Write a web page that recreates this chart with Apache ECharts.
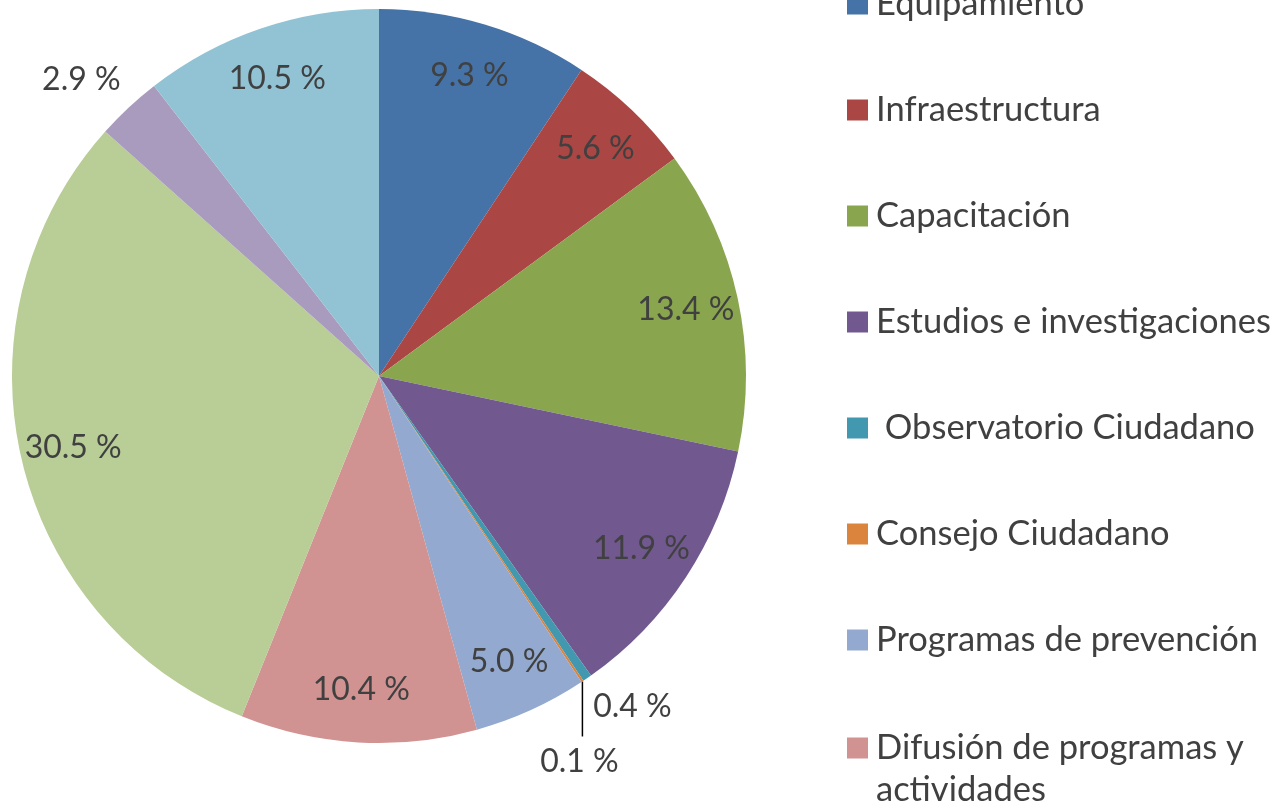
<!DOCTYPE html>
<html><head><meta charset="utf-8">
<script src="https://cdn.jsdelivr.net/npm/echarts@6/dist/echarts.min.js"></script>
<style>html,body{margin:0;padding:0;background:#fff;overflow:hidden;} #c{width:1280px;height:808px;}</style>
</head><body><div id="c"></div>
<script>
// Categories (the last three legend entries are cut off in the reference; names not visible)
const categories = ['Equipamiento', 'Infraestructura', 'Capacitación', 'Estudios e investigaciones',
  ' Observatorio Ciudadano', 'Consejo Ciudadano', 'Programas de prevención',
  'Difusión de programas y actividades', 'Serie 9', 'Serie 10', 'Serie 11'];
const values = [9.3, 5.6, 13.4, 11.9, 0.4, 0.1, 5.0, 10.4, 30.5, 2.9, 10.5];
const colors = ['#4572A7', '#AA4643', '#89A54E', '#71588F', '#4198AF', '#DB843D',
  '#93A9CF', '#D19392', '#B9CD96', '#A99BBD', '#92C3D4'];
const outsideIdx = [4, 5, 9];

const FONT = 'Lato';
const TXT = '#404040';
const fmt = p => p.value.toFixed(1) + ' %';

const chart = echarts.init(document.getElementById('c'), null, {renderer: 'canvas'});

const mainData = categories.map((n, i) => {
  const d = {name: n, value: values[i], itemStyle: {color: colors[i]}};
  if (outsideIdx.includes(i)) {
    d.label = {show: true};
    d.labelLine = {show: true, lineStyle: i === 5 ? {color: '#000', width: 1.5, opacity: 1} : {opacity: 0}};
  }
  return d;
});
const overlayData = categories.map((n, i) => ({
  name: n, value: values[i],
  label: {show: !outsideIdx.includes(i)}
}));

const option = {
  backgroundColor: '#fff',
  animation: false,
  legend: [{
    orient: 'vertical', left: 847, top: -17, padding: 0, height: 1000,
    itemWidth: 21, itemHeight: 21, itemGap: 64, icon: 'rect', selectedMode: false,
    textStyle: {fontFamily: FONT, fontSize: 34.5, color: TXT, lineHeight: 42, padding: [0, 0, 0, 3]},
    data: categories.slice(0, 7)
  }, {
    orient: 'vertical', left: 847, top: 685, padding: 0, height: 300,
    itemWidth: 21, itemHeight: 21, icon: 'rect', selectedMode: false,
    formatter: name => '\n' + name.replace(/ (\S+)$/, '\n$1'),
    textStyle: {fontFamily: FONT, fontSize: 34.5, color: TXT, lineHeight: 42,
      padding: [0, 0, 0, 3]},
    data: [categories[7]]
  }],
  series: [{
    type: 'pie', center: [379, 376], radius: 367, startAngle: 90, clockwise: true,
    avoidLabelOverlap: false, silent: true, emphasis: {disabled: true},
    itemStyle: {borderWidth: 0},
    label: {show: false, position: 'outside', fontFamily: FONT, fontSize: 32, color: TXT, formatter: fmt},
    labelLine: {show: false, length: 20, length2: 0},
    labelLayout: function (p) {
      const pts = p.labelLinePoints;
      if (!pts) return {};
      const e = pts[0];
      if (p.dataIndex === 5) {
        return {x: e[0] - 3, y: e[1] + 80, align: 'center', verticalAlign: 'middle',
          labelLinePoints: [[e[0], e[1]], [e[0], e[1] + 55], [e[0], e[1] + 55]]};
      }
      if (p.dataIndex === 4) {
        return {x: e[0] + 6, y: e[1] + 28, align: 'left', verticalAlign: 'middle'};
      }
      if (p.dataIndex === 9) {
        return {x: e[0] - 8, y: e[1] - 28, align: 'right', verticalAlign: 'middle'};
      }
      return {};
    },
    data: mainData
  }, {
    type: 'pie', center: [379, 376], radius: [255, 367], startAngle: 90, clockwise: true,
    silent: true, emphasis: {disabled: true},
    itemStyle: {color: 'rgba(0,0,0,0)', borderWidth: 0},
    label: {show: true, position: 'inside', fontFamily: FONT, fontSize: 32, color: TXT, formatter: fmt},
    labelLine: {show: false},
    data: overlayData
  }]
};
chart.setOption(option);
</script>
</body></html>
